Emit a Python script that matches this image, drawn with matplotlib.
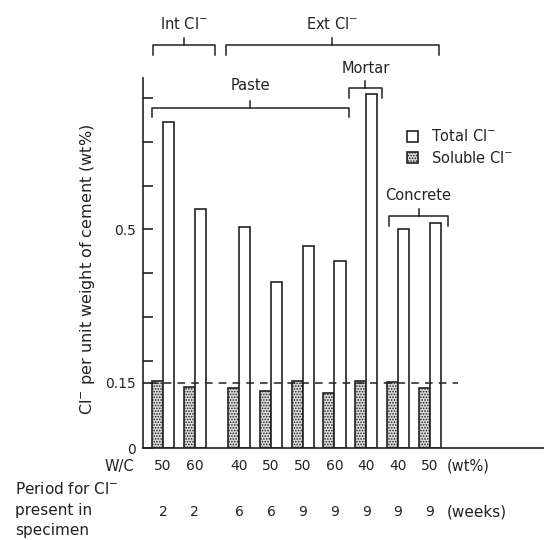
import numpy as np
import matplotlib.pyplot as plt
from matplotlib.transforms import blended_transform_factory

# data
wc = ["50", "60", "40", "50", "50", "60", "40", "40", "50"]
weeks = ["2", "2", "6", "6", "9", "9", "9", "9", "9"]
total_cl = [0.746, 0.546, 0.505, 0.379, 0.463, 0.427, 0.808, 0.500, 0.514]
soluble_cl = [0.153, 0.139, 0.138, 0.130, 0.153, 0.125, 0.153, 0.152, 0.137]
limit = 0.15

plt.rcParams['font.family'] = ['DejaVu Sans']
plt.rcParams['hatch.linewidth'] = 0.8
ink = "#222222"

fig = plt.figure(figsize=(5.44, 5.40), dpi=100)
ax = fig.add_axes([0.263, 0.170, 0.737, 0.685])

# group positions: a gap after the internal chloride specimens
x = np.arange(len(wc)) + np.where(np.arange(len(wc)) >= 2, 0.4, 0.0)
w = 0.35

b_sol = ax.bar(x - w / 2, soluble_cl, w, facecolor="#dcdcdc", edgecolor=ink,
               hatch="......", linewidth=1.2, label="Soluble Cl$^{-}$")
b_tot = ax.bar(x + w / 2, total_cl, w, facecolor="white", edgecolor=ink,
               linewidth=1.2, label="Total Cl$^{-}$")

ax.plot([-0.41, 9.3], [limit, limit], color=ink, lw=1.1, ls=(0, (5, 4)))

ax.set_xlim(-0.63, 12.0)
ax.set_ylim(0, 0.845)
for s in ["top", "right"]:
    ax.spines[s].set_visible(False)
for s in ["left", "bottom"]:
    ax.spines[s].set_color(ink)
    ax.spines[s].set_linewidth(1.2)

ax.set_xticks([])
ax.set_yticks([0, 0.15, 0.5])
ax.set_yticklabels(["0", "0.15", "0.5"])
ax.set_yticks(np.arange(0.2, 0.85, 0.1), minor=True)
ax.tick_params(axis="y", which="both", direction="in", length=7, width=1.2,
               color=ink, labelsize=10, labelcolor=ink, pad=5)

fig.text(0.160, 1 - 269 / 540, "Cl$^{-}$ per unit weight of cement (wt%)",
         rotation=90, ha="center", va="center", fontsize=11.5, color=ink)


def bracket(x0, x1, y, label, ly):
    d = 0.022
    ax.plot([x0, x0, x1, x1], [y - d, y, y, y - d], color=ink, lw=1.1,
            clip_on=False)
    xm = (x0 + x1) / 2
    ax.plot([xm, xm], [y, y + 0.016], color=ink, lw=1.1, clip_on=False)
    ax.text(xm, ly, label, ha="center", va="center", fontsize=10.5, color=ink)


bracket(-0.32, 1.65, 0.92, "Int Cl$^{-}$", 0.97)
bracket(1.97, 8.69, 0.92, "Ext Cl$^{-}$", 0.97)
bracket(-0.35, 5.85, 0.778, "Paste", 0.829)
bracket(5.85, 6.9, 0.822, "Mortar", 0.868)
bracket(7.13, 8.97, 0.53, "Concrete", 0.578)

ax.legend(handles=[b_tot, b_sol], loc="upper left", bbox_to_anchor=(0.625, 0.9),
          frameon=False, fontsize=10.5, handlelength=0.75, handleheight=0.75,
          handletextpad=0.9, labelspacing=0.35, labelcolor=ink)

# rows under the axis
tr = blended_transform_factory(ax.transData, ax.transAxes)
for xi, a, b in zip(x, wc, weeks):
    ax.text(xi, -0.049, a, transform=tr, ha="center", va="center",
            fontsize=10, color=ink)
    ax.text(xi, -0.173, b, transform=tr, ha="center", va="center",
            fontsize=10, color=ink)
ax.text(x[-1] + 0.55, -0.049, "(wt%)", transform=tr, ha="left", va="center",
        fontsize=10.5, color=ink)
ax.text(x[-1] + 0.55, -0.173, "(weeks)", transform=tr, ha="left", va="center",
        fontsize=11, color=ink)
fig.text(0.246, 1 - 466 / 540, "W/C", ha="right", va="center", fontsize=10.5,
         color=ink)
fig.text(0.028, 1 - 489 / 540, "Period for Cl$^{-}$", ha="left", va="center",
         fontsize=11, color=ink)
fig.text(0.028, 1 - 511 / 540, "present in", ha="left", va="center",
         fontsize=11, color=ink)
fig.text(0.028, 1 - 531 / 540, "specimen", ha="left", va="center",
         fontsize=11, color=ink)

fig.savefig("out.png", dpi=100)
